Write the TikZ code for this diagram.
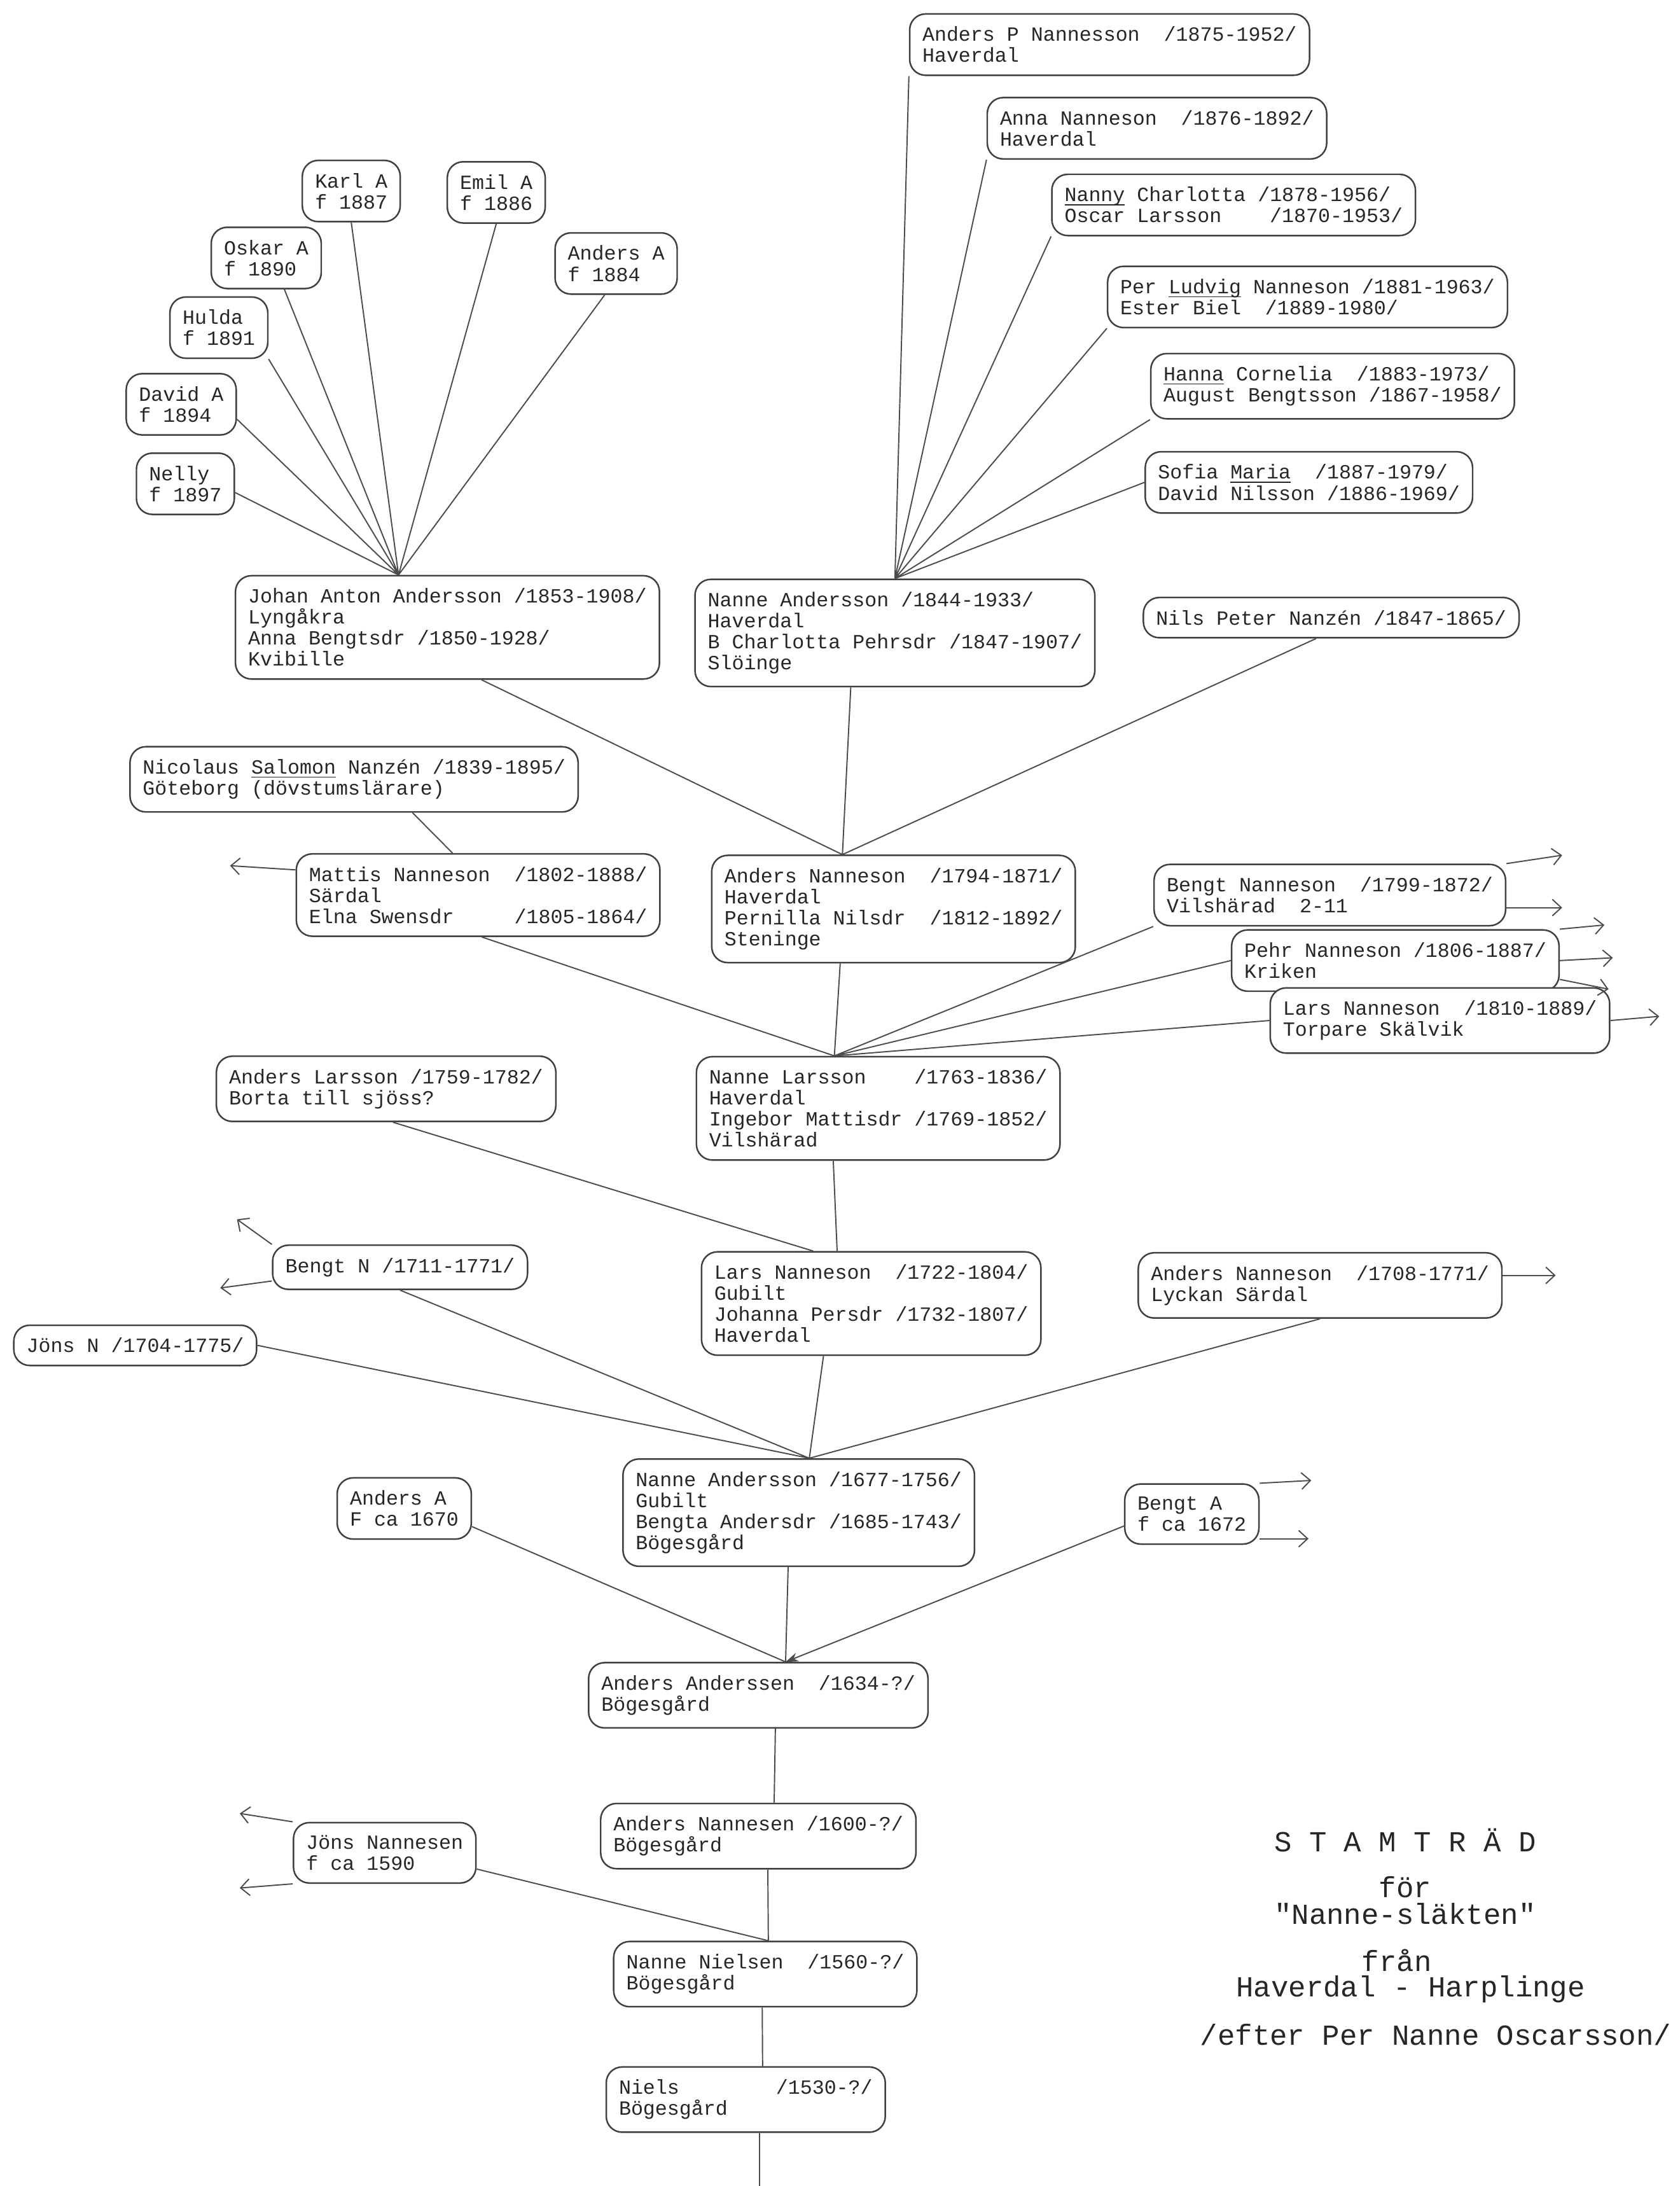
\documentclass[tikz,border=0pt]{standalone}
\usepackage{fontspec}
\setmonofont{Liberation Mono}
\usetikzlibrary{arrows.meta,calc}
\setlength{\lineskiplimit}{-20pt}
% typewriter underline, drawn through the descenders
\newcommand{\typeline}[1]{\underline{\smash{#1}}}
\tikzset{
%Define standard arrow tip
>={Straight Barb[length=1.4mm,width=2.6mm]},
%Define style for the boxes of the family members
person/.style={draw=black!75, line width=0.7pt, rounded corners=2.5mm, fill=white,
  align=left, inner xsep=2mm, inner ysep=2mm, text=black!85,
  font=\ttfamily\fontsize{9}{9.4}\selectfont},
%Define style for the lines of descent
kin/.style={draw=black!70, line width=0.55pt},
%Define style for the short arrows to branches not drawn
branch/.style={kin, ->},
%Define style for the title lines
title/.style={text=black!85, anchor=base, inner sep=0pt, font=\ttfamily\fontsize{13}{13}\selectfont},
}

\begin{document}
\begin{tikzpicture}[x=0.2191mm, y=-0.2191mm]
% Page
\fill[white] (0,0) rectangle (1205,1568);
\useasboundingbox (0,0) rectangle (1205,1568);

% Children of Nanne Andersson
\node[person] (andersP) at (796,32) {Anders P Nannesson~~/1875-1952/\\Haverdal};
\node[person] (anna) at (830,92) {Anna Nanneson~~/1876-1892/\\Haverdal};
\node[person] (nanny) at (885,147) {\typeline{Nanny} Charlotta /1878-1956/\\Oscar Larsson~~~~/1870-1953/};
\node[person] (perLudvig) at (938,213) {Per \typeline{Ludvig} Nanneson /1881-1963/\\Ester Biel~~/1889-1980/};
\node[person] (hanna) at (956,277) {\typeline{Hanna} Cornelia~~/1883-1973/\\August Bengtsson /1867-1958/};
\node[person] (sofia) at (939,346) {Sofia \typeline{Maria}~~/1887-1979/\\David Nilsson /1886-1969/};

% Children of Johan Anton Andersson
\node[person] (karl) at (252,137) {Karl A\\f 1887};
\node[person] (emil) at (356,138) {Emil A\\f 1886};
\node[person] (anders84) at (442,189) {Anders A\\f 1884};
\node[person] (oskar) at (191,185) {Oskar A\\f 1890};
\node[person] (hulda) at (157,235) {Hulda\\f 1891};
\node[person] (david) at (130,290) {David A\\f 1894};
\node[person] (nelly) at (133,347) {Nelly\\f 1897};

% Children of Anders Nanneson
\node[person] (johan) at (321,450) {Johan Anton Andersson /1853-1908/\\Lyngåkra\\Anna Bengtsdr /1850-1928/\\Kvibille};
\node[person] (nanne44) at (642,454) {Nanne Andersson /1844-1933/\\Haverdal\\B Charlotta Pehrsdr /1847-1907/\\Slöinge};
\node[person] (nils) at (955,443) {Nils Peter Nanzén /1847-1865/};
\node[person] (nicolaus) at (254,559) {Nicolaus \typeline{Salomon} Nanzén /1839-1895/\\Göteborg (dövstumslärare)};

% Children of Nanne Larsson
\node[person] (mattis) at (343,642) {Mattis Nanneson~~/1802-1888/\\Särdal\\Elna Swensdr~~~~~/1805-1864/};
\node[person] (anders94) at (641,652) {Anders Nanneson~~/1794-1871/\\Haverdal\\Pernilla Nilsdr~~/1812-1892/\\Steninge};
\node[person] (bengt99) at (954,642) {Bengt Nanneson~~/1799-1872/\\Vilshärad~~2-11};
\node[person] (pehr) at (1001,689) {Pehr Nanneson /1806-1887/\\Kriken};
\node[person] (lars10) at (1033,732) {Lars Nanneson~~/1810-1889/\\Torpare Skälvik};

% Children of Lars Nanneson
\node[person] (andersL) at (277,781) {Anders Larsson /1759-1782/\\Borta till sjöss?};
\node[person] (nanneL) at (630,795) {Nanne Larsson~~~~/1763-1836/\\Haverdal\\Ingebor Mattisdr /1769-1852/\\Vilshärad};

% Children of Nanne Andersson
\node[person] (bengt11) at (287,909) {Bengt N /1711-1771/};
\node[person] (jons04) at (97,965) {Jöns N /1704-1775/};
\node[person] (lars22) at (625,935) {Lars Nanneson~~/1722-1804/\\Gubilt\\Johanna Persdr /1732-1807/\\Haverdal};
\node[person] (anders08) at (947,922) {Anders Nanneson~~/1708-1771/\\Lyckan Särdal};

% Children of Anders Anderssen
\node[person] (andersA70) at (290,1082) {Anders A\\F ca 1670};
\node[person] (nanne77) at (573,1085) {Nanne Andersson /1677-1756/\\Gubilt\\Bengta Andersdr /1685-1743/\\Bögesgård};
\node[person] (bengtA72) at (855,1086) {Bengt A\\f ca 1672};

% The old line
\node[person] (anders34) at (544,1216) {Anders Anderssen~~/1634-?/\\Bögesgård};
\node[person] (anders00) at (544,1317) {Anders Nannesen /1600-?/\\Bögesgård};
\node[person] (jons90) at (276,1329) {Jöns Nannesen\\f ca 1590};
\node[person] (nanne60) at (549,1416) {Nanne Nielsen~~/1560-?/\\Bögesgård};
\node[person] (niels) at (535,1506) {Niels~~~~~~~~/1530-?/\\Bögesgård};

% Title
\node[title] (title1) at (1008,1328) {S T A M T R Ä D};
\node[title] (title2) at (1008,1361) {för};
\node[title] (title3) at (1008,1380) {"Nanne-släkten"};
\node[title] (title4) at (1002,1414) {från};
\node[title] (title5) at (1012,1432) {Haverdal - Harplinge};
\node[title] (title6) at (1030,1467) {/efter Per Nanne Oscarsson/};

% Points where the lines meet
\coordinate (johan top) at ($(johan.north west)!0.385!(johan.north east)$);
\coordinate (nanne44 top) at (nanne44.north);
\coordinate (anders94 top) at ($(anders94.north west)!0.36!(anders94.north east)$);
\coordinate (nanneL top) at ($(nanneL.north west)!0.38!(nanneL.north east)$);
\coordinate (nanne77 top) at ($(nanne77.north west)!0.53!(nanne77.north east)$);
\coordinate (anders34 top) at ($(anders34.north west)!0.58!(anders34.north east)$);
\coordinate (nanne60 top) at ($(nanne60.north west)!0.51!(nanne60.north east)$);

% Draw the fans of children
\draw[kin] (karl.south) -- (johan top) (emil.south) -- (johan top)
  (anders84.-110) -- (johan top) (oskar.-60) -- (johan top)
  (hulda.south east) -- (johan top) (david.-15) -- (johan top)
  (nelly.-10) -- (johan top);
\draw[kin] (andersP.south west) -- (nanne44 top) (anna.south west) -- (nanne44 top)
  (nanny.south west) -- (nanne44 top) (perLudvig.south west) -- (nanne44 top)
  (hanna.south west) -- (nanne44 top) (sofia.west) -- (nanne44 top);
\draw[kin] ($(johan.south west)!0.58!(johan.south east)$) -- (anders94 top)
  ($(nanne44.south west)!0.39!(nanne44.south east)$) -- (anders94 top)
  ($(nils.south west)!0.46!(nils.south east)$) -- (anders94 top);
\draw[kin] ($(nicolaus.south west)!0.63!(nicolaus.south east)$) -- ($(mattis.north west)!0.43!(mattis.north east)$);
\draw[kin] ($(mattis.south west)!0.51!(mattis.south east)$) -- (nanneL top)
  ($(anders94.south west)!0.354!(anders94.south east)$) -- (nanneL top)
  (bengt99.south west) -- (nanneL top) (pehr.west) -- (nanneL top)
  (lars10.west) -- (nanneL top);
\draw[kin] ($(nanneL.south west)!0.377!(nanneL.south east)$) -- ($(lars22.north west)!0.4!(lars22.north east)$);
\draw[kin] ($(andersL.south west)!0.52!(andersL.south east)$) -- ($(lars22.north west)!0.33!(lars22.north east)$);
\draw[kin] ($(lars22.south west)!0.36!(lars22.south east)$) -- (nanne77 top)
  (bengt11.south) -- (nanne77 top) (jons04.east) -- (nanne77 top)
  (anders08.south) -- (nanne77 top);
\draw[kin] ($(nanne77.south west)!0.47!(nanne77.south east)$) -- (anders34 top)
  (andersA70.-15) -- (anders34 top);
\draw[kin, -{Stealth[length=2mm,width=1.4mm]}] (bengtA72.-170) -- (anders34 top);
\draw[kin] ($(anders34.south west)!0.55!(anders34.south east)$) -- ($(anders00.north west)!0.55!(anders00.north east)$);
\draw[kin] ($(anders00.south west)!0.53!(anders00.south east)$) -- (nanne60 top)
  (jons90.-10) -- (nanne60 top);
\draw[kin] ($(nanne60.south west)!0.49!(nanne60.south east)$) -- ($(niels.north west)!0.56!(niels.north east)$);
\draw[kin] ($(niels.south west)!0.55!(niels.south east)$) -- ++(0,45);

% Draw the arrows to branches not shown
\draw[branch] ($(mattis.north west)!0.2!(mattis.south west)$) -- ++(-47,-3);
\draw[branch] (bengt99.north east) -- ++(40,-6);
\draw[branch] ($(bengt99.north east)!0.7!(bengt99.south east)$) -- ++(40,0);
\draw[branch] (pehr.north east) -- ++(32,-3);
\draw[branch] (pehr.east) -- ++(38,-2);
\draw[branch] ($(pehr.north east)!0.8!(pehr.south east)$) -- ++(35,7);
\draw[branch] (lars10.east) -- ++(35,-3);
\draw[branch] (bengt11.north west) -- ++(-25,-18);
\draw[branch] ($(bengt11.north west)!0.8!(bengt11.south west)$) -- ++(-37,5);
\draw[branch] ($(anders08.north east)!0.35!(anders08.south east)$) -- ++(38,0);
\draw[branch] (bengtA72.north east) -- ++(37,-2);
\draw[branch] ($(bengtA72.north east)!0.9!(bengtA72.south east)$) -- ++(35,0);
\draw[branch] (jons90.north west) -- ++(-38,-6);
\draw[branch] (jons90.south west) -- ++(-38,3);
\end{tikzpicture}
\end{document}
